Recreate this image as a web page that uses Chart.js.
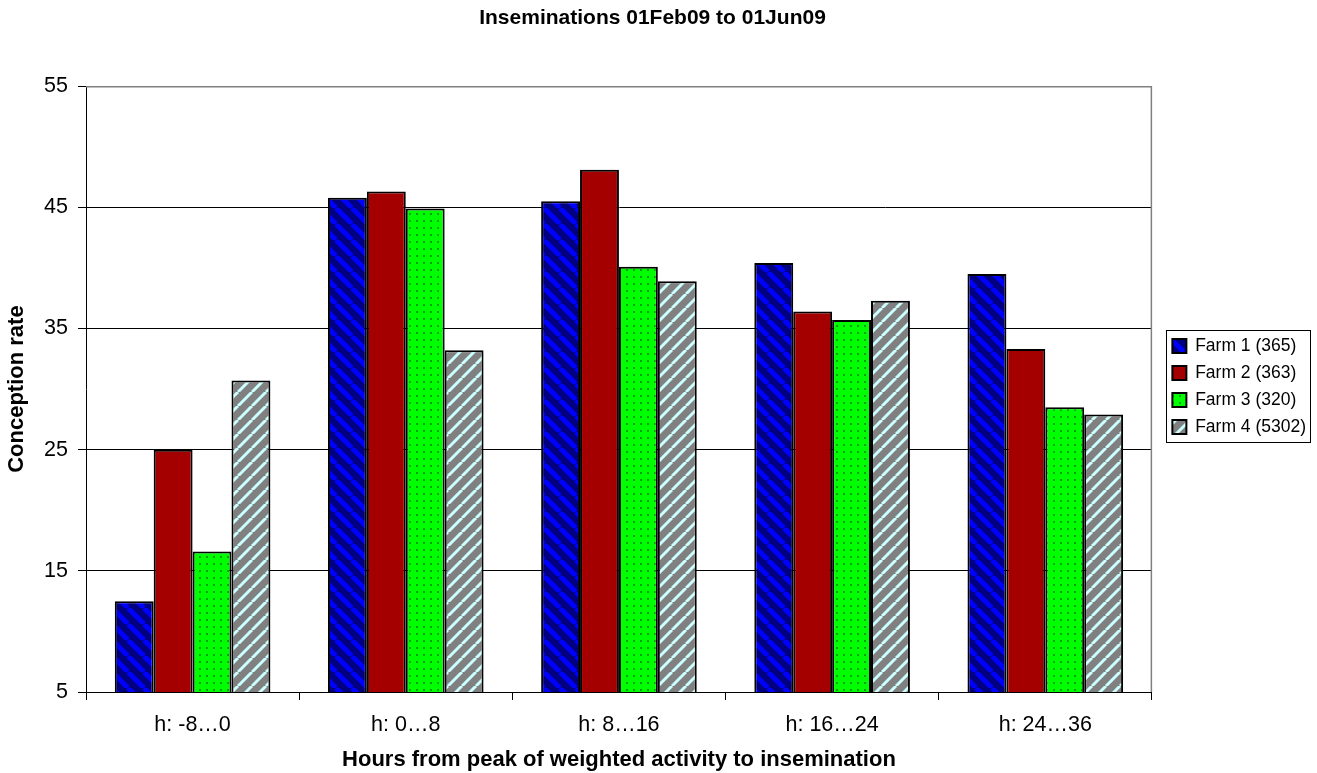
<!DOCTYPE html>
<html>
<head>
<meta charset="utf-8">
<script src="https://cdn.jsdelivr.net/npm/chart.js@4.4.0/dist/chart.umd.min.js"></script>
<style>
html,body{margin:0;padding:0;background:#fff;}
#wrap{width:1317px;height:773px;position:relative;}
</style>
</head>
<body>
<div id="wrap"><canvas id="c" width="1317" height="773"></canvas></div>
<script>
const categories = ['h: -8…0', 'h: 0…8', 'h: 8…16', 'h: 16…24', 'h: 24…36'];
const seriesNames = ['Farm 1 (365)', 'Farm 2 (363)', 'Farm 3 (320)', 'Farm 4 (5302)'];
const farm1 = [12.5, 45.8, 45.5, 40.4, 39.5];
const farm2 = [25.0, 46.3, 48.1, 36.4, 33.3];
const farm3 = [16.6, 44.9, 40.1, 35.7, 28.5];
const farm4 = [30.7, 33.2, 38.9, 37.3, 27.9];
const yTicks = [5, 15, 25, 35, 45, 55];

const FONT = '"Liberation Sans", Arial, sans-serif';

function tile(size, draw) {
  const cv = document.createElement('canvas');
  cv.width = size; cv.height = size;
  const g = cv.getContext('2d');
  draw(g, size);
  return g.createPattern(cv, 'repeat');
}
function stripes(bg, fg, size, w, dir) {
  return tile(size, (g, s) => {
    g.fillStyle = bg; g.fillRect(0, 0, s, s);
    g.strokeStyle = fg; g.lineWidth = w;
    for (let k = -1; k <= 1; k++) {
      g.beginPath();
      if (dir === 'down') { g.moveTo(k * s, 0); g.lineTo(k * s + s, s); }
      else { g.moveTo(k * s, s); g.lineTo(k * s + s, 0); }
      g.stroke();
    }
  });
}
const pBlue = stripes('#000080', '#0000ff', 16, 5, 'down');
const pGray = stripes('#808080', '#ccffff', 14, 3, 'up');
const pGreen = tile(7, (g, s) => {
  g.fillStyle = '#00ff00'; g.fillRect(0, 0, s, s);
  g.fillStyle = '#11a011'; g.fillRect(3, 3, 2, 2);
});

const values = [farm1, farm2, farm3, farm4];
const fills = [pBlue, '#a50000', pGreen, pGray];

const frame = {
  id: 'frame',
  afterLayout(chart) {
    const lg = chart.legend;
    if (lg) { lg.left += 11; lg.right += 11; }
  },
  beforeDatasetsDraw(chart) {
    const a = chart.chartArea, ctx = chart.ctx;
    ctx.save();
    ctx.strokeStyle = '#808080'; ctx.lineWidth = 1.5;
    ctx.beginPath();
    ctx.moveTo(a.left, a.top + 0.5); ctx.lineTo(a.right - 0.5, a.top + 0.5); ctx.lineTo(a.right - 0.5, a.bottom);
    ctx.stroke();
    ctx.restore();
  },
  afterDraw(chart) {
    const lg = chart.legend;
    if (!lg || !lg.legendHitBoxes || !lg.legendHitBoxes.length) return;
    const hb = lg.legendHitBoxes;
    let l = Infinity, t = Infinity, r = -Infinity, b = -Infinity;
    hb.forEach(h => { l = Math.min(l, h.left); t = Math.min(t, h.top); r = Math.max(r, h.left + h.width); b = Math.max(b, h.top + h.height); });
    const ctx = chart.ctx;
    ctx.save();
    ctx.strokeStyle = '#000'; ctx.lineWidth = 1;
    ctx.strokeRect(Math.round(l - 6) + 0.5, Math.round(t - 7) + 0.5, Math.round(r - l + 10), Math.round(b - t + 13));
    ctx.restore();
  }
};

new Chart(document.getElementById('c'), {
  type: 'bar',
  data: {
    labels: categories,
    datasets: seriesNames.map((n, i) => ({
      label: n,
      data: values[i],
      backgroundColor: fills[i],
      borderColor: '#000',
      borderWidth: 2,
      categoryPercentage: 0.73,
      barPercentage: 1.0
    }))
  },
  options: {
    responsive: false,
    animation: false,
    devicePixelRatio: 1,
    layout: { padding: { left: 0, right: 12, top: 0, bottom: 0 } },
    plugins: {
      title: {
        display: true,
        text: 'Inseminations 01Feb09 to 01Jun09',
        color: '#000',
        font: { family: FONT, size: 21, weight: 'bold' },
        padding: { top: 6, bottom: 55 }
      },
      legend: {
        position: 'right',
        labels: {
          color: '#000',
          font: { family: FONT, size: 17.5 },
          boxWidth: 14,
          boxHeight: 14,
          padding: 9.5
        }
      },
      tooltip: { enabled: false }
    },
    scales: {
      x: {
        afterFit(s) { s.height = 81; },
        grid: { drawOnChartArea: false, color: '#000', tickLength: 8, offset: true },
        border: { color: '#000', width: 1 },
        ticks: { color: '#000', font: { family: FONT, size: 21.5 }, padding: 12, maxRotation: 0 },
        title: { display: true, text: 'Hours from peak of weighted activity to insemination', color: '#000', font: { family: FONT, size: 22, weight: 'bold' }, padding: { top: 4, bottom: 0 } }
      },
      y: {
        min: 5, max: 55,
        afterBuildTicks(s) { s.ticks = yTicks.map(v => ({ value: v })); },
        afterFit(s) { s.width = 86; },
        grid: { color: (c) => c.tick && c.tick.value === 55 ? '#808080' : '#000', tickLength: 8, tickColor: '#000' },
        border: { color: '#000', width: 1 },
        ticks: { color: '#000', font: { family: FONT, size: 21.5 }, padding: 10 },
        title: { display: true, text: 'Conception rate', color: '#000', font: { family: FONT, size: 22, weight: 'bold' }, padding: { top: 4, bottom: 0 } }
      }
    }
  },
  plugins: [frame]
});
</script>
</body>
</html>
